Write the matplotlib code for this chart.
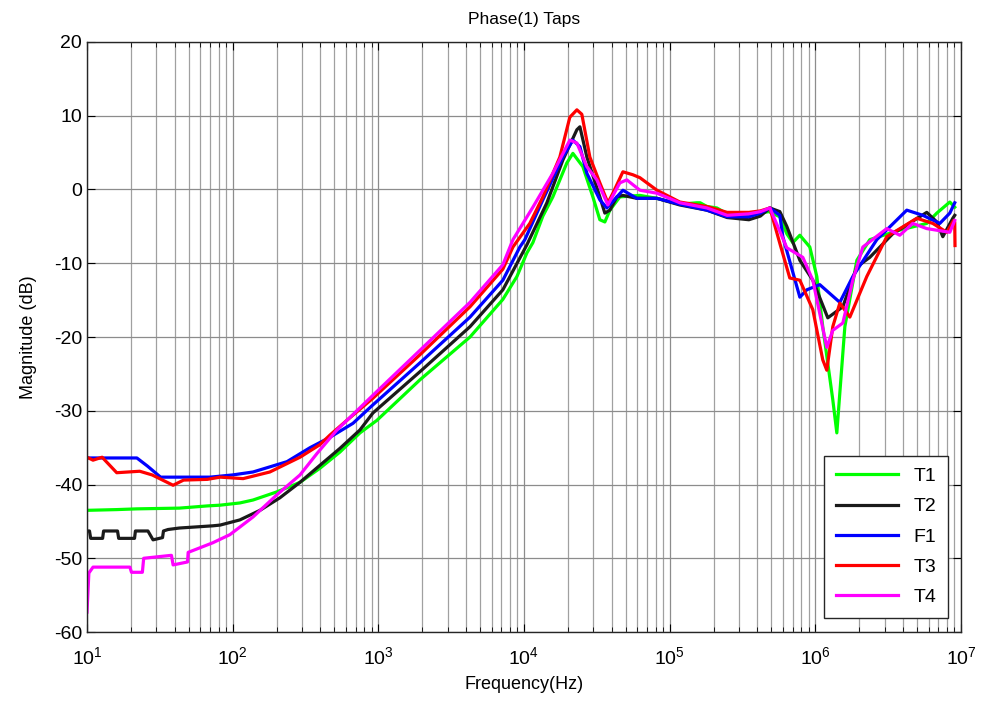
import numpy as np
import matplotlib
matplotlib.use("Agg")
import matplotlib.pyplot as plt
from matplotlib.ticker import LogLocator, NullFormatter, MultipleLocator

plt.rcParams['font.family'] = ['Liberation Sans', 'DejaVu Sans']
plt.rcParams['axes.unicode_minus'] = False

# Frequency response of each tap (frequency in Hz, magnitude in dB)
t1_freq = [10, 16, 22, 43, 67, 82, 112, 138, 201, 290, 397, 545, 748, 978, 1932, 4260,
           7160, 8940, 10470, 11510, 13480, 15780, 19690, 21660, 25350, 29710, 33170,
           35900, 38880, 45520, 62490, 81780, 117500, 153700, 162000, 180000, 210800,
           248000, 350000, 420000, 480000, 570600, 637100, 700000, 783100, 916800,
           1.024e6, 1.125e6, 1.318e6, 1.405e6, 1.473e6, 1.595e6, 1.928e6, 2.366e6,
           3.8e6, 5.822e6, 6.824e6, 8.382e6, 9.06e6]
t1_db = [-43.5, -43.4, -43.3, -43.2, -42.9, -42.8, -42.5, -42.1, -41.0, -39.7, -37.8,
         -35.6, -33.0, -31.3, -25.8, -20.0,
         -14.9, -11.8, -8.6, -7.2, -3.6, -1.0, 3.6, 4.9, 3.1, -1.0, -4.1,
         -4.4, -2.8, -1.0, -0.8, -1.2, -2.0, -1.8, -1.8, -2.3, -2.5,
         -3.3, -3.6, -3.2, -3.0, -3.7, -6.0, -7.2, -6.2, -7.8,
         -11.8, -18.6, -28.5, -33.0, -27.6, -18.6, -9.6, -6.8,
         -5.5, -4.6, -3.2, -1.7, -2.4]

t2_freq = [10, 10.4, 10.6, 12.8, 13.0, 16.2, 16.5, 21.2, 21.5, 26.2, 28.4, 33.0, 33.5,
           36, 43, 73, 82, 112, 154, 211, 290, 397, 545, 748, 918, 1932, 4260, 7160,
           10470, 14360, 18490, 23070, 24200, 27020, 33170, 35900, 38880, 43430, 47760,
           59560, 81780, 117500, 180000, 248000, 350000, 420000, 487500, 570600,
           637100, 783100, 961300, 1.218e6, 1.545e6, 1.928e6, 2.366e6, 3.403e6,
           5.822e6, 6.824e6, 7.502e6, 8.788e6, 9.06e6]
t2_db = [-46.3, -46.3, -47.3, -47.3, -46.3, -46.3, -47.3, -47.3, -46.3, -46.3, -47.5,
         -47.2, -46.3,
         -46.1, -45.9, -45.6, -45.5, -44.8, -43.5, -41.8, -39.7, -37.4, -35.1, -32.6,
         -30.3, -24.7, -18.6, -13.6,
         -7.5, -1.8, 4.0, 8.1, 8.5, 4.4, -1.0, -3.2, -2.8, -1.0, -0.8,
         -1.2, -1.2, -2.1, -2.8, -3.8, -4.1, -3.6, -2.5, -3.0,
         -5.0, -9.6, -12.3, -17.4, -15.9, -10.5, -9.2, -6.0,
         -3.1, -4.4, -6.4, -3.9, -3.5]

f1_freq = [10, 22, 26, 32, 50, 70, 100, 138, 236, 340, 465, 670, 918, 1932, 4260, 7160,
           9370, 10140, 13480, 18490, 21660, 24200, 27020, 33170, 37070, 43430, 47760,
           59560, 81780, 117500, 180000, 248000, 350000, 420000, 487500, 570600,
           598300, 783100, 874400, 1.073e6, 1.473e6, 1.809e6, 2.643e6, 4.245e6,
           5.47e6, 7.154e6, 8.382e6, 9.06e6]
f1_db = [-36.4, -36.4, -37.5, -39.0, -39.0, -39.0, -38.7, -38.3, -36.9, -35.0, -33.6,
         -31.7, -29.2, -23.5, -17.3, -12.3,
         -7.8, -6.8, -1.4, 4.4, 6.7, 5.8, 2.2, -1.4, -2.5, -1.0, -0.1,
         -1.2, -1.2, -2.0, -2.8, -3.7, -3.7, -3.2, -2.5, -3.5,
         -6.4, -14.6, -13.6, -12.9, -15.3, -11.8, -6.8, -2.8,
         -3.5, -4.6, -3.2, -1.8]

t3_freq = [10, 11, 12.7, 16, 23, 28, 39, 46, 67, 82, 118, 180, 290, 397, 465, 608, 918,
           1932, 4260, 7160, 8400, 10960, 13480, 17620, 20640, 23070, 24950, 28330,
           33170, 37670, 40780, 47760, 55870, 62490, 81780, 117500, 180000, 248000,
           350000, 420000, 487500, 570600, 668000, 783100, 961300, 1.125e6, 1.199e6,
           1.318e6, 1.473e6, 1.726e6, 2.256e6, 3.094e6, 4.974e6, 6.403e6, 7.995e6,
           8.9e6, 9.06e6, 9.1e6]
t3_db = [-36.3, -36.7, -36.3, -38.4, -38.2, -38.7, -40.1, -39.4, -39.3, -39.0, -39.2,
         -38.3, -36.3, -34.6, -33.3, -31.3, -28.3,
         -22.4, -15.9, -10.8, -7.8, -4.6, -1.0, 4.4, 9.8, 10.8, 10.2, 4.4,
         0.9, -1.8, -0.5, 2.4, 2.0, 1.6, -0.1, -1.7, -2.3, -3.1,
         -3.1, -2.9, -2.5, -7.3, -12.0, -12.3, -16.3, -23.1, -24.5,
         -18.6, -15.4, -17.3, -11.8, -6.4, -3.9, -4.6, -5.8,
         -4.2, -4.4, -7.6]

t4_freq = [10, 10.3, 11, 19.7, 20.2, 24, 24.5, 38, 39, 49, 49.5, 73, 95.7, 138, 201,
           290, 379, 520, 918, 1932, 4260, 7160, 8400, 11510, 15780, 20640, 23070,
           27020, 31650, 37670, 45520, 50850, 62490, 81780, 117500, 180000, 248000,
           350000, 420000, 487500, 637100, 820700, 961300, 1.199e6, 1.318e6, 1.545e6,
           1.809e6, 2.12e6, 3.094e6, 3.8e6, 4.668e6, 5.822e6, 8.382e6, 9.06e6]
t4_db = [-57.3, -52.0, -51.2, -51.2, -51.9, -51.9, -50.0, -49.6, -50.9, -50.5, -49.2,
         -47.9, -46.8, -44.4, -41.4,
         -38.7, -35.8, -32.6, -27.9, -21.8, -15.3, -10.2, -6.8, -2.4, 2.2, 6.7, 6.3,
         3.1, 1.3, -2.1, 0.9, 1.3, -0.1, -0.5, -1.8, -2.5, -3.5,
         -3.3, -3.0, -2.5, -7.9, -9.2, -12.3, -21.4, -19.1, -18.1,
         -12.3, -7.8, -5.3, -6.2, -4.6, -5.3, -5.8, -4.2]

series = [
    ("T1", t1_freq, t1_db, "#00ff00"),
    ("T2", t2_freq, t2_db, "#1a1a1a"),
    ("F1", f1_freq, f1_db, "#0000ff"),
    ("T3", t3_freq, t3_db, "#ff0000"),
    ("T4", t4_freq, t4_db, "#ff00ff"),
]

fig = plt.figure(figsize=(9.83, 7.08), dpi=100)
ax = fig.add_axes([0.0885, 0.1073, 0.8891, 0.8334])

for name, f, db, color in series:
    ax.semilogx(f, db, color=color, lw=2.3, label=name, solid_joinstyle="round")

ax.set_xlim(10, 1e7)
ax.set_ylim(-60, 20)
ax.yaxis.set_major_locator(MultipleLocator(10))
ax.xaxis.set_major_locator(LogLocator(base=10, numticks=10))
ax.xaxis.set_minor_locator(LogLocator(base=10, subs=np.arange(2, 10), numticks=100))
ax.xaxis.set_minor_formatter(NullFormatter())

ax.grid(True, which="major", color="#8c8c8c", lw=0.9)
ax.grid(True, which="minor", axis="x", color="#a0a0a0", lw=0.9)
ax.set_axisbelow(True)

ax.tick_params(which="both", direction="in", top=True, right=True, labelsize=14,
               color="black")
ax.tick_params(which="major", length=6)
ax.tick_params(which="minor", length=3.5)
ax.tick_params(axis="x", which="major", pad=10)
for s in ax.spines.values():
    s.set_color("#262626")
    s.set_linewidth(1.0)

ax.set_title("Phase(1) Taps", fontsize=12.5, pad=13)
ax.set_xlabel("Frequency(Hz)", fontsize=13, labelpad=6)
ax.set_ylabel("Magnitude (dB)", fontsize=13, labelpad=12)

leg = ax.legend(loc="lower right", bbox_to_anchor=(0.985, 0.024), borderaxespad=0,
                fontsize=14, handlelength=3.2, handletextpad=0.8, labelspacing=0.65,
                fancybox=False, framealpha=1, edgecolor="#262626", borderpad=0.6)
leg.get_frame().set_linewidth(1.0)

fig.savefig("out.png", dpi=100)
